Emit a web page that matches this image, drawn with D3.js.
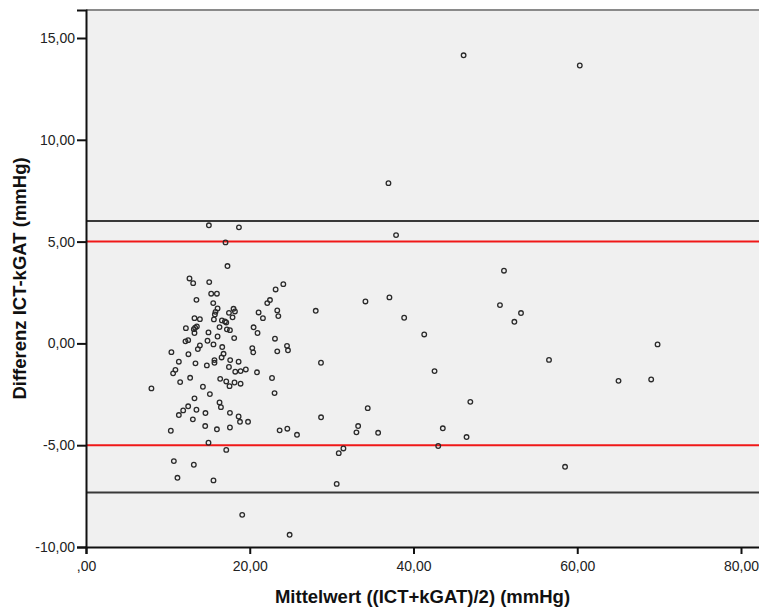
<!DOCTYPE html>
<html>
<head>
<meta charset="utf-8">
<script src="https://cdn.jsdelivr.net/npm/d3@7"></script>
<style>
  body { margin: 0; background: #fff; }
  .tick text { font-family: "Liberation Sans", Arial, sans-serif; font-size: 14px; fill: #222; }
  .axisTitle { font-family: "Liberation Sans", Arial, sans-serif; font-size: 18.5px; font-weight: bold; fill: #111; }
</style>
</head>
<body>
<div id="scatter"></div>
<script>
// Data: mean of both methods (x) and difference ICT - kGAT (y), in mmHg
var meanVals = [
  17.28, 12.64, 13.09, 15.05, 24.10, 23.16, 15.29, 15.99, 13.49, 22.47,
  22.14, 15.54, 16.07, 18.02, 18.19, 15.82, 17.46, 21.08, 23.36, 23.49,
  15.74, 17.90, 21.61, 13.25, 13.91, 15.62, 16.60, 16.97, 17.13, 13.54,
  12.20, 13.17, 13.33, 16.31, 17.21, 17.58, 20.47, 13.25, 14.96, 20.95,
  16.07, 18.10, 23.08, 12.48, 12.15, 14.84, 15.57, 13.91, 13.66, 16.64,
  20.31, 20.43, 24.55, 24.67, 23.36, 10.43, 12.51, 16.80, 16.56, 11.34,
  13.37, 15.69, 15.69, 17.61, 18.64, 14.76, 17.46, 10.92, 10.64, 18.23,
  18.88, 19.52, 20.88, 12.72, 16.39, 17.13, 18.14, 18.88, 17.53, 22.72,
  11.50, 7.99, 14.28, 15.13, 23.03, 13.25, 16.31, 16.48, 12.48, 11.87,
  11.34, 13.49, 14.59, 17.58, 18.64, 18.81, 19.79, 13.05, 14.56, 15.99,
  17.58, 10.36, 23.65, 24.59, 14.96, 17.13, 10.73, 13.17, 11.17, 15.57,
  15.01, 18.68, 17.04, 28.06, 28.70, 25.77, 28.71, 34.41, 33.24, 33.03,
  35.68, 31.44, 30.87, 30.62, 19.08, 24.87, 36.94, 37.87, 51.05, 34.13,
  37.06, 38.86, 41.31, 50.56, 53.13, 52.32, 56.55, 42.57, 46.94, 43.58,
  46.48, 43.02, 69.81, 65.04, 69.03, 58.51, 46.12, 60.31
];
var diffVals = [
  3.80, 3.19, 2.96, 3.01, 2.91, 2.65, 2.44, 2.44, 2.14, 2.13,
  1.98, 1.98, 1.72, 1.70, 1.57, 1.55, 1.50, 1.52, 1.62, 1.34,
  1.42, 1.28, 1.24, 1.24, 1.19, 1.18, 1.13, 1.08, 1.03, 0.83,
  0.75, 0.70, 0.77, 0.80, 0.69, 0.65, 0.79, 0.51, 0.54, 0.51,
  0.34, 0.26, 0.23, 0.16, 0.10, 0.13, -0.05, -0.10, -0.28, -0.18,
  -0.23, -0.44, -0.12, -0.34, -0.39, -0.43, -0.53, -0.51, -0.69, -0.90,
  -0.98, -0.82, -0.95, -0.82, -0.90, -1.08, -1.16, -1.30, -1.47, -1.39,
  -1.36, -1.28, -1.42, -1.69, -1.74, -1.87, -1.92, -1.98, -2.10, -1.70,
  -1.90, -2.21, -2.13, -2.49, -2.44, -2.70, -2.90, -3.13, -3.09, -3.29,
  -3.52, -3.26, -3.42, -3.41, -3.59, -3.85, -3.85, -3.73, -4.06, -4.22,
  -4.13, -4.29, -4.27, -4.19, -4.88, -5.23, -5.78, -5.96, -6.60, -6.73,
  5.80, 5.70, 4.96, 1.60, -0.95, -4.49, -3.63, -3.18, -4.06, -4.37,
  -4.39, -5.16, -5.39, -6.90, -8.42, -9.40, 7.87, 5.32, 3.57, 2.06,
  2.26, 1.26, 0.44, 1.88, 1.49, 1.06, -0.81, -1.36, -2.87, -4.17,
  -4.60, -5.04, -0.05, -1.84, -1.77, -6.06, 14.15, 13.65
];

// Reference lines: limits of agreement (black) and +/-5 mmHg (red)
var loaLines = [6.01, -7.32];
var clinicalLines = [5, -5];

// Axis ticks
var xTicks = [0, 20, 40, 60, 80];
var xTickLabels = [",00", "20,00", "40,00", "60,00", "80,00"];
var yTicks = [-10, -5, 0, 5, 10, 15];
var yTickLabels = ["-10,00", "-5,00", "0,00", "5,00", "10,00", "15,00"];

var points = meanVals.map(function(m, i) {
  return { mean: m, diff: diffVals[i] };
});

// Set up the chart
var svgWidth = 759;
var svgHeight = 608;

var margin = { top: 10, right: -3, bottom: 61, left: 86 };
var width = svgWidth - margin.left - margin.right;
var height = svgHeight - margin.top - margin.bottom;

var svg = d3.select("#scatter")
  .append("svg")
  .attr("width", svgWidth)
  .attr("height", svgHeight);

var chartGroup = svg.append("g")
  .attr("transform", `translate(${margin.left}, ${margin.top})`);

// Scales
var pxPerX = 655 / 80;
var xLinearScale = d3.scaleLinear()
  .domain([0, width / pxPerX])
  .range([0, width]);

var yLinearScale = d3.scaleLinear()
  .domain([-10, -10 + height / 20.36])
  .range([height, 0]);

// Plot background
chartGroup.append("rect")
  .attr("width", width)
  .attr("height", height)
  .attr("fill", "#f0f0f0");

// top frame
chartGroup.append("line")
  .attr("x1", 0).attr("x2", width)
  .attr("y1", 0).attr("y2", 0)
  .attr("stroke", "#8a8a8a")
  .attr("stroke-width", 2);

// Horizontal reference lines
chartGroup.selectAll(".loa")
  .data(loaLines)
  .enter()
  .append("line")
  .attr("class", "loa")
  .attr("x1", 0).attr("x2", width)
  .attr("y1", d => yLinearScale(d))
  .attr("y2", d => yLinearScale(d))
  .attr("stroke", "#383838")
  .attr("stroke-width", 2);

chartGroup.selectAll(".clin")
  .data(clinicalLines)
  .enter()
  .append("line")
  .attr("class", "clin")
  .attr("x1", 0).attr("x2", width)
  .attr("y1", d => yLinearScale(d))
  .attr("y2", d => yLinearScale(d))
  .attr("stroke", "#f01818")
  .attr("stroke-width", 2);

// Axes
var bottomAxis = d3.axisBottom(xLinearScale)
  .tickValues(xTicks)
  .tickSize(7)
  .tickPadding(7)
  .tickFormat((d, i) => xTickLabels[i]);
var leftAxis = d3.axisLeft(yLinearScale)
  .tickValues(yTicks)
  .tickSize(9)
  .tickPadding(2)
  .tickFormat((d, i) => yTickLabels[i]);

var xAxisG = chartGroup.append("g")
  .attr("transform", `translate(0, ${height})`)
  .call(bottomAxis);

var yAxisG = chartGroup.append("g")
  .call(leftAxis);

[xAxisG, yAxisG].forEach(function(g) {
  g.select(".domain").attr("stroke", "#111").attr("stroke-width", 2);
  g.selectAll(".tick line").attr("stroke", "#111").attr("stroke-width", 2);
});

// Points
chartGroup.selectAll("circle")
  .data(points)
  .enter()
  .append("circle")
  .attr("cx", d => xLinearScale(d.mean))
  .attr("cy", d => yLinearScale(d.diff))
  .attr("r", 2.3)
  .attr("fill", "none")
  .attr("stroke", "#2a2a2a")
  .attr("stroke-width", 1.3);

// Axis titles
chartGroup.append("text")
  .attr("class", "axisTitle")
  .attr("transform", `translate(${-60}, ${height / 2}) rotate(-90)`)
  .attr("text-anchor", "middle")
  .text("Differenz ICT-kGAT (mmHg)");

chartGroup.append("text")
  .attr("class", "axisTitle")
  .attr("x", (759 - margin.left) / 2)
  .attr("y", height + 56)
  .attr("text-anchor", "middle")
  .text("Mittelwert ((ICT+kGAT)/2) (mmHg)");
</script>
</body>
</html>
